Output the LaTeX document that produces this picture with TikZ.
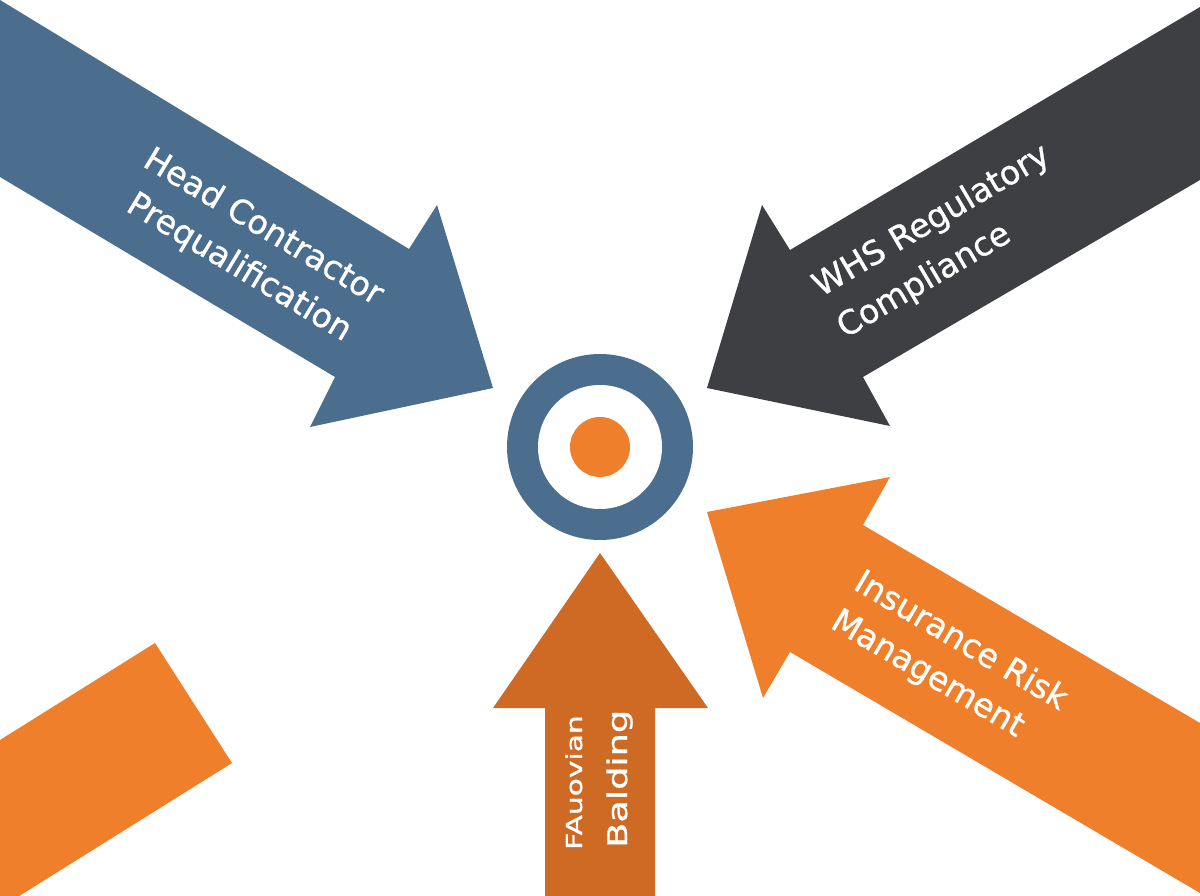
\documentclass[tikz,border=0pt]{standalone}
\usepackage{fontspec}
\setmainfont{DejaVu Sans}
\newfontfamily\lblfont{DejaVu Sans}[FakeBold=1]
\usepackage{graphicx}
\definecolor{cblue}{HTML}{4B6E8E}
\definecolor{cdark}{HTML}{3D3F42}
\definecolor{corange}{HTML}{F07F2B}
\definecolor{cburnt}{HTML}{CF6A25}
\begin{document}
\begin{tikzpicture}[x=1pt,y=-1pt,
  lbl/.style={text=white, inner sep=0pt},
  ring/.style={circle, inner sep=0pt, draw=none}]
\useasboundingbox (0,0) rectangle (1200,896);
\clip (0,0) rectangle (1200,896);
\fill[white] (0,0) rectangle (1200,896);
% bottom-left bar
\fill[corange] (0,740) -- (155,643) -- (232,763) -- (0,908) -- cycle;
% blue arrow (top-left)
\fill[cblue] (0,0) -- (409,249) -- (437,205) -- (493,388) -- (310,427) -- (335,377) -- (0,177) -- cycle;
% dark arrow (top-right)
\fill[cdark] (1200,7) -- (790,250) -- (762,205) -- (707,388) -- (890,426) -- (863,377) -- (1200,180) -- cycle;
% orange arrow (bottom-right)
\fill[corange] (707,512) -- (890,477) -- (863,525) -- (1200,723) -- (1200,893) -- (790,652) -- (763,698) -- cycle;
% bottom arrow
\fill[cburnt] (600,553) -- (708,708) -- (655,708) -- (655,900) -- (545,900) -- (545,708) -- (493,708) -- cycle;
% target
\node[ring, fill=cblue, minimum size=186pt] (outer) at (600,447) {};
\node[ring, fill=white, minimum size=124pt] (inner) at (outer.center) {};
\node[ring, fill=corange, minimum size=60pt] (bull) at (outer.center) {};
% labels
\node[lbl, align=center, rotate=-31, font=\lblfont\fontsize{33}{47}\selectfont] (head) at (251,248) {Head Contractor\\Prequalification};
\node[lbl, align=left, rotate=30.5, font=\lblfont\fontsize{33}{48}\selectfont] (whs) at (944,242) {WHS Regulatory\\Compliance};
\node[lbl, align=left, rotate=-30.5, font=\lblfont\fontsize{33}{45}\selectfont] (ins) at (949,661) {Insurance Risk\\Management};
\node[lbl, anchor=base west, rotate=90, font=\lblfont\fontsize{22}{22}\selectfont] (fau) at (582,850) {\scalebox{1.35}[1]{FAuovian}};
\node[lbl, anchor=base west, rotate=90, font=\lblfont\fontsize{27}{27}\selectfont] (bal) at (627,848) {\scalebox{1.36}[1]{Balding}};
\end{tikzpicture}
\end{document}
